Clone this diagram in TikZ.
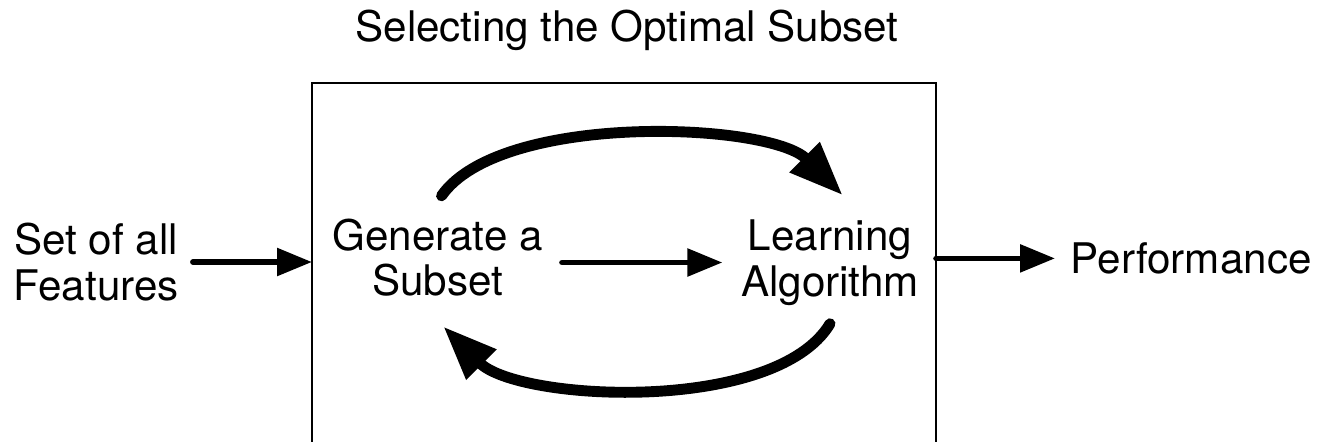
\documentclass[tikz,border=0pt]{standalone}
\usepackage{fontspec}
\setmainfont{TeX Gyre Heros}
\usetikzlibrary{arrows.meta}

\tikzset{
  txt/.style={inner sep=0pt, align=center},
  flow/.style={line width=1.6pt, line cap=round, -{Triangle[length=0.35cm,width=0.27cm]}},
  bigflow/.style={line width=3.1pt, line cap=round, -{Triangle[length=0.54cm,width=0.40cm]}}
}

\begin{document}
\begin{tikzpicture}[font=\fontsize{12}{13}\selectfont]
  \useasboundingbox (0,0) rectangle (13.2,-4.41);

  % titulo
  \node[txt, anchor=base] (title) at (6.27,-0.41) {Selecting the Optimal Subset};

  % caja (el borde inferior queda fuera)
  \node[draw, line width=0.7pt, inner sep=0pt, outer sep=0pt, anchor=north west,
        minimum width=6.24cm, minimum height=4cm] (frame) at (3.12,-0.83) {};

  % textos
  \node[txt] (feat) at (0.962,-2.62) {Set of all\\Features};
  \node[txt] (gen) at (4.375,-2.575) {Generate a\\Subset};
  \node[txt] (learn) at (8.30,-2.625) {Learning\\Algorithm};
  \node[txt, anchor=base west] (perf) at (10.70,-2.735) {Performance};

  % flechas rectas
  \draw[flow, shorten <=0.135cm] (feat) -- (feat -| frame.west);
  \draw[flow, shorten <=0.187cm, shorten >=0.18cm] (gen.east |- learn.west) -- (learn.west);
  \draw[flow, shorten >=0.15cm] (perf.west -| frame.east) -- (perf.west);

  % flechas curvas
  \draw[bigflow] ([shift={(0.04,0.22)}]gen.north) to[out=55, in=135, looseness=0.66]
        ([shift={(0.127,0.237)}]learn.north);
  \draw[bigflow] ([shift={(0,-0.177)}]learn.south) to[out=-121, in=-45, looseness=0.7]
        ([shift={(0.058,-0.293)}]gen.south);
\end{tikzpicture}
\end{document}
